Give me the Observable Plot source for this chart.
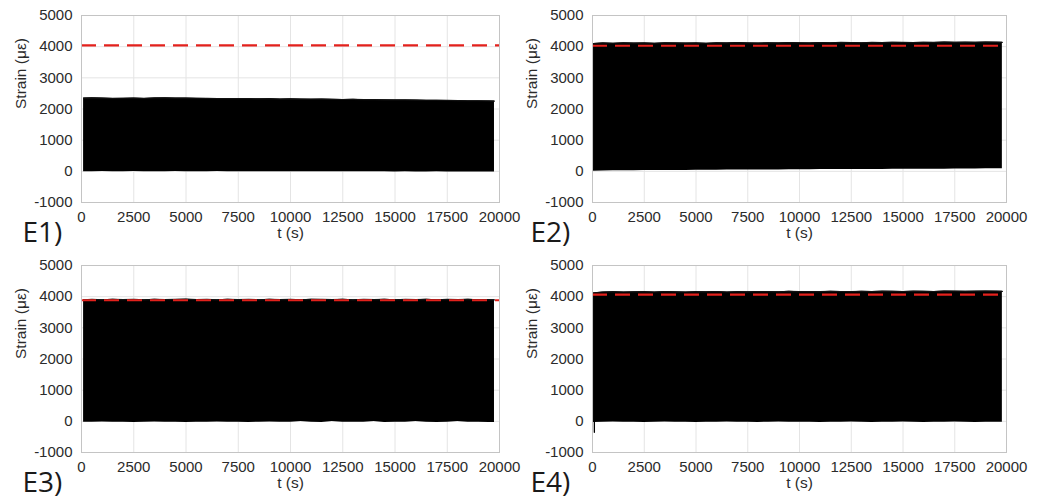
<!DOCTYPE html>
<html>
<head>
<meta charset="utf-8">
<script src="https://cdn.jsdelivr.net/npm/d3@7"></script>
<script src="https://cdn.jsdelivr.net/npm/@observablehq/plot@0.6"></script>
<style>
  body { margin: 0; background: #fff; }
  #wrap { position: relative; width: 1048px; height: 500px; overflow: hidden; }
  .panel { position: absolute; }
  svg { font-family: "Liberation Sans", Arial, sans-serif; }
</style>
</head>
<body>
<div id="wrap"></div>
<script>
// ---- data ----
const panelNames = ["E1)", "E2)", "E3)", "E4)"];
const xTicks = [0, 2500, 5000, 7500, 10000, 12500, 15000, 17500, 20000];
const yTicks = [-1000, 0, 1000, 2000, 3000, 4000, 5000];
const thresholds = [4040, 4030, 3885, 4065];

// time stamps of the envelope samples (s)
const timesA = [100, 500, 1000, 1500, 2000, 2500, 3000, 3500, 4000, 4500, 5000, 5500, 6000, 6500, 7000, 7500, 8000, 8500, 9000, 9500, 10000, 10500, 11000, 11500, 12000, 12500, 13000, 13500, 14000, 14500, 15000, 15500, 16000, 16500, 17000, 17500, 18000, 18500, 19000, 19500, 19760];
const timesB = [50, 500, 1000, 1500, 2000, 2500, 3000, 3500, 4000, 4500, 5000, 5500, 6000, 6500, 7000, 7500, 8000, 8500, 9000, 9500, 10000, 10500, 11000, 11500, 12000, 12500, 13000, 13500, 14000, 14500, 15000, 15500, 16000, 16500, 17000, 17500, 18000, 18500, 19000, 19500, 19800];

// upper (peak) and lower (trough) envelopes of the cyclic strain (µε)
const e1Peak = [2350, 2360, 2350, 2340, 2345, 2350, 2340, 2355, 2360, 2350, 2350, 2345, 2340, 2335, 2330, 2335, 2330, 2325, 2330, 2320, 2325, 2320, 2315, 2320, 2310, 2305, 2310, 2300, 2300, 2295, 2290, 2290, 2285, 2280, 2280, 2275, 2270, 2265, 2265, 2260, 2255];
const e1Trough = [-10, -10, -5, -10, -10, -5, -10, -10, -10, -5, -10, -10, -10, -5, -10, -10, -10, -15, -10, -10, -15, -10, -10, -15, -10, -15, -15, -10, -15, -15, -20, -15, -20, -20, -15, -20, -20, -25, -20, -25, -25];

const e2Peak = [4100, 4120, 4110, 4125, 4115, 4120, 4110, 4125, 4120, 4115, 4120, 4110, 4125, 4120, 4130, 4120, 4115, 4125, 4120, 4130, 4125, 4120, 4130, 4125, 4135, 4130, 4125, 4135, 4130, 4140, 4135, 4130, 4140, 4135, 4150, 4140, 4145, 4140, 4150, 4145, 4140];
const e2Trough = [0, 10, 15, 20, 20, 25, 25, 30, 30, 30, 35, 35, 35, 40, 40, 40, 45, 45, 45, 50, 50, 50, 55, 55, 55, 60, 60, 60, 60, 65, 65, 65, 70, 70, 70, 75, 75, 75, 80, 80, 80];

const e3Peak = [3900, 3910, 3900, 3915, 3905, 3910, 3900, 3915, 3905, 3910, 3920, 3905, 3910, 3900, 3915, 3905, 3910, 3900, 3915, 3905, 3910, 3900, 3915, 3910, 3905, 3915, 3900, 3910, 3905, 3915, 3900, 3910, 3905, 3915, 3900, 3910, 3905, 3915, 3900, 3905, 3900];
const e3Trough = [-30, -30, -25, -30, -30, -35, -30, -25, -30, -30, -35, -30, -30, -25, -30, -30, -35, -30, -25, -30, -30, -5, -30, -35, -5, -30, -30, -30, -5, -35, -30, -30, -5, -30, -35, -30, -5, -30, -30, -35, -35];

const e4Peak = [4120, 4150, 4160, 4150, 4155, 4160, 4150, 4165, 4155, 4150, 4160, 4155, 4165, 4150, 4160, 4155, 4165, 4160, 4155, 4170, 4160, 4165, 4160, 4170, 4165, 4160, 4170, 4165, 4175, 4170, 4165, 4175, 4170, 4165, 4180, 4175, 4170, 4175, 4180, 4175, 4170];
const e4Trough = [-40, -30, -25, -30, -30, -35, -30, -25, -30, -30, -35, -30, -30, -25, -30, -30, -35, -30, -25, -30, -30, -30, -35, -30, -30, -25, -30, -35, -30, -30, -25, -30, -35, -30, -30, -25, -30, -35, -30, -30, -30];
// initial transient dip in E4 (thin trace at the start)
const e4StartT = [90, 90];
const e4StartY = [0, -350];

const series = [
  {t: timesA, peak: e1Peak, trough: e1Trough},
  {t: timesB, peak: e2Peak, trough: e2Trough},
  {t: timesA, peak: e3Peak, trough: e3Trough},
  {t: timesB, peak: e4Peak, trough: e4Trough}
];

// ---- layout ----
const layouts = [
  {left: 0,   top: 0,   width: 524, mL: 81, mR: 25, eDx: -59},
  {left: 520, top: 0,   width: 528, mL: 72, mR: 42, eDx: -62},
  {left: 0,   top: 250, width: 524, mL: 81, mR: 25, eDx: -59},
  {left: 520, top: 250, width: 528, mL: 72, mR: 42, eDx: -62}
];

const wrap = document.getElementById("wrap");
const fmt = d => String(d);
const ink = "#2b2b2b";

series.forEach((s, i) => {
  const L = layouts[i];
  const rows = s.t.map((t, k) => ({t, lo: s.trough[k], hi: s.peak[k]}));
  const extra = i === 3
    ? [Plot.lineY(e4StartT.map((t, k) => ({t, y: e4StartY[k]})), {x: "t", y: "y", stroke: "#000", strokeWidth: 1.3})]
    : [];
  const chart = Plot.plot({
    width: L.width,
    height: 250,
    marginLeft: L.mL,
    marginRight: L.mR,
    marginTop: 15,
    marginBottom: 48,
    style: {background: "transparent", fontFamily: "Liberation Sans, Arial, sans-serif", fontSize: "15px"},
    x: {domain: [0, 20000], axis: null},
    y: {domain: [-1000, 5000], axis: null},
    marks: [
      Plot.gridX(xTicks, {stroke: "#e4e4e4", strokeOpacity: 1}),
      Plot.gridY(yTicks, {stroke: "#e4e4e4", strokeOpacity: 1}),
      Plot.areaY(rows, {x: "t", y1: "lo", y2: "hi", fill: "#000", curve: "linear"}),
      Plot.lineY(rows, {x: "t", y: "hi", stroke: "#111", strokeWidth: 1.2}),
      ...extra,
      Plot.ruleY([thresholds[i]], {stroke: "#e3211c", strokeWidth: 2.2, strokeDasharray: "15,8"}),
      Plot.frame({stroke: "#c4c4c4"}),
      Plot.axisX(xTicks, {tickSize: 0, tickPadding: 9, fontSize: 15, fill: ink, tickFormat: fmt, label: null}),
      Plot.axisY(yTicks, {tickSize: 0, tickPadding: 9, fontSize: 15, fill: ink, tickFormat: fmt, label: null}),
      Plot.text(["t (s)"], {frameAnchor: "bottom", dy: 35, fontSize: 15.5, fill: ink}),
      Plot.text(["Strain (με)"], {frameAnchor: "left", dx: -60, rotate: -90, fontSize: 15.5, fill: ink}),
      Plot.text([panelNames[i]], {frameAnchor: "bottom-left", dx: L.eDx, dy: 39, textAnchor: "start", fontSize: 28, fill: "#1a1a1a", fontFamily: "Open Sans"})
    ]
  });
  const div = document.createElement("div");
  div.className = "panel";
  div.style.left = L.left + "px";
  div.style.top = L.top + "px";
  div.appendChild(chart);
  wrap.appendChild(div);
});
</script>
</body>
</html>
